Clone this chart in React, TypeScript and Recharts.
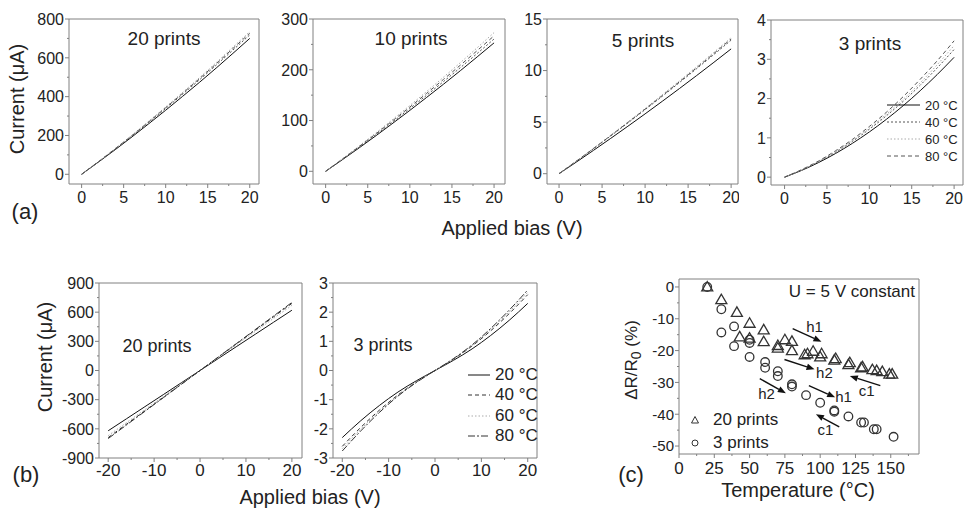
import React from 'react';
import {
  LineChart, Line, XAxis, YAxis, ReferenceArea, ScatterChart, Scatter,
  ReferenceLine, ReferenceDot, Legend,
} from 'recharts';

const FONT = '"Liberation Sans", Arial, sans-serif';
const INK = '#222';
const FRAME = '#808080';

// (a) forward bias sweep, 0..20 V
const biasA = [0, 2, 4, 6, 8, 10, 12, 14, 16, 18, 20];
const a20_20C = [0, 63, 127, 193, 261, 330, 401, 473, 547, 623, 700];
const a20_40C = [0, 64, 130, 198, 268, 339, 412, 486, 562, 640, 718];
const a20_60C = [0, 65, 133, 202, 274, 347, 421, 497, 575, 655, 735];
const a20_80C = [0, 65, 132, 200, 271, 343, 417, 492, 569, 648, 727];

const a10_20C = [0, 23, 46.4, 70.4, 95, 120, 145.6, 171.6, 198.2, 225.4, 253];
const a10_40C = [0, 23.6, 47.8, 72.6, 97.8, 123.6, 149.9, 176.8, 204.2, 232.1, 260.6];
const a10_60C = [0, 24.8, 50.2, 76.1, 102.6, 129.6, 157.2, 185.4, 214.1, 243.4, 273.2];
const a10_80C = [0, 24.2, 49, 74.3, 100.2, 126.6, 153.6, 181.1, 209.1, 237.8, 266.9];

const a5_20C = [0, 1.12, 2.26, 3.42, 4.6, 5.8, 7.02, 8.26, 9.52, 10.8, 12.1];
const a5_40C = [0, 1.2, 2.42, 3.66, 4.92, 6.21, 7.51, 8.84, 10.19, 11.56, 12.95];
const a5_60C = [0, 1.22, 2.46, 3.73, 5.01, 6.32, 7.65, 9.0, 10.38, 11.77, 13.19];
const a5_80C = [0, 1.21, 2.44, 3.69, 4.97, 6.26, 7.58, 8.92, 10.28, 11.66, 13.07];

const a3_20C = [0, 0.17, 0.37, 0.6, 0.86, 1.15, 1.47, 1.82, 2.2, 2.61, 3.05];
const a3_40C = [0, 0.18, 0.39, 0.63, 0.91, 1.22, 1.56, 1.93, 2.34, 2.78, 3.25];
const a3_60C = [0, 0.18, 0.4, 0.65, 0.93, 1.25, 1.6, 1.98, 2.4, 2.86, 3.35];
const a3_80C = [0, 0.19, 0.41, 0.67, 0.96, 1.29, 1.65, 2.05, 2.49, 2.96, 3.47];

// (b) bipolar sweep, -20..20 V
const biasB = [-20, -16, -12, -8, -4, 0, 4, 8, 12, 16, 20];
const b20_20C = [-620, -496, -372, -248, -124, 0, 124, 248, 372, 496, 620];
const b20_40C = [-690, -552, -414, -276, -138, 0, 138, 276, 414, 552, 690];
const b20_60C = [-670, -536, -402, -268, -134, 0, 134, 268, 402, 536, 670];
const b20_80C = [-700, -560, -420, -280, -140, 0, 140, 280, 420, 560, 700];

const b3_20C = [-2.3, -1.72, -1.2, -0.74, -0.35, 0, 0.35, 0.74, 1.2, 1.72, 2.3];
const b3_40C = [-2.6, -1.95, -1.36, -0.84, -0.39, 0, 0.39, 0.84, 1.36, 1.95, 2.6];
const b3_60C = [-2.68, -2.01, -1.4, -0.86, -0.4, 0, 0.4, 0.86, 1.4, 2.01, 2.68];
const b3_80C = [-2.76, -2.07, -1.44, -0.88, -0.41, 0, 0.41, 0.88, 1.44, 2.07, 2.76];

// (c) resistance change vs temperature
const temp20p = [20, 30, 41, 50, 60, 43, 50, 60, 70, 70, 75, 80, 80, 89, 91, 95, 100, 101, 110, 111, 120, 121, 129, 130, 137, 140, 144, 149, 151];
const dr20p = [0, -4, -8, -11.4, -13.5, -15.7, -16.1, -17.2, -18.4, -19.2, -16.6, -17.1, -20, -21.3, -21, -20.2, -22, -21, -23, -22.5, -24.4, -23.8, -25.4, -25.1, -26, -26.3, -26.6, -27.4, -27.4];
const temp3p = [20, 30, 30, 39, 39, 50, 50, 50, 61, 61, 70, 70, 80, 80, 90, 100, 110, 110, 120, 129, 131, 138, 140, 152];
const dr3p = [0, -7, -14.3, -12.4, -18.6, -16.6, -17.6, -22, -23.6, -25.4, -26.5, -28, -30.6, -31.3, -34, -36.4, -38.8, -39.2, -40.7, -42.6, -42.6, -44.7, -44.7, -47.1];

// cycle arrows: [xFrom, yFrom, xTo, yTo], labels [x, y, text]
const arrowsC = [
  [80.5, -13.1, 100.9, -17.2], [74.7, -22.8, 96, -25.9], [142.6, -31, 121, -28],
  [57.2, -28.8, 75.7, -33.4], [92, -31, 110.6, -34.7], [113.5, -44, 97, -40],
];
const arrowLabels: [number, number, string][] = [
  [96, -12.4, 'h1'], [103, -27, 'h2'], [133, -32.5, 'c1'],
  [62, -33.4, 'h2'], [116.6, -34.4, 'h1'], [103.8, -45, 'c1'],
];

const tempLabels = ['20 °C', '40 °C', '60 °C', '80 °C'];

const stylesA = [
  { key: 't20', stroke: '#111', dash: undefined },
  { key: 't40', stroke: '#555', dash: '2 2' },
  { key: 't60', stroke: '#aaa', dash: '1.5 2' },
  { key: 't80', stroke: '#555', dash: '4 3' },
];
const stylesB = [
  { key: 't20', stroke: '#111', dash: undefined },
  { key: 't40', stroke: '#333', dash: '4 3' },
  { key: 't60', stroke: '#aaa', dash: '1.5 2' },
  { key: 't80', stroke: '#333', dash: '7 2 2 2' },
];

const rows = (xs: number[], s1: number[], s2: number[], s3: number[], s4: number[]) =>
  xs.map((v, i) => ({ v, t20: s1[i], t40: s2[i], t60: s3[i], t80: s4[i] }));

const near = (a: number, list: number[]) => list.some((m) => Math.abs(m - a) < 1e-6);
const steps = (from: number, to: number, step: number) => {
  const out: number[] = [];
  for (let v = from; v <= to + 1e-9; v += step) out.push(Math.round(v * 1000) / 1000);
  return out;
};

const makeXTick = (majors: number[], fs: number, gap: number) => (p: any) => {
  const major = near(p.payload.value, majors);
  return (
    <g>
      <line x1={p.x} x2={p.x} y1={p.y} y2={p.y + (major ? 4 : 2)} stroke={FRAME} />
      {major && (
        <text x={p.x} y={p.y + gap} textAnchor="middle" fontSize={fs} fontFamily={FONT} fill={INK}>
          {String(p.payload.value)}
        </text>
      )}
    </g>
  );
};

const makeYTick = (majors: number[], fs: number) => (p: any) => {
  const major = near(p.payload.value, majors);
  return (
    <g>
      <line x1={p.x} x2={p.x - (major ? 4 : 2)} y1={p.y} y2={p.y} stroke={FRAME} />
      {major && (
        <text x={p.x - 5} y={p.y + fs * 0.36} textAnchor="end" fontSize={fs} fontFamily={FONT} fill={INK}>
          {String(p.payload.value)}
        </text>
      )}
    </g>
  );
};

const PAD_T = 14;
const PAD_R = 1;
const WY = 56;
const HX = 36;

type PanelProps = {
  L: number; T: number; W: number; H: number;
  data: any[];
  styles: typeof stylesA;
  xDomain: [number, number]; yDomain: [number, number];
  xTicks: number[]; xMajor: number[]; yTicks: number[]; yMajor: number[];
  xfs: number; yfs: number; xgap: number;
  legend?: React.ReactNode;
};

const IVPanel = (p: PanelProps) => (
  <div style={{ position: 'absolute', left: p.L - WY, top: p.T - PAD_T }}>
    <LineChart width={WY + p.W + PAD_R} height={PAD_T + p.H + HX} data={p.data}
      margin={{ top: PAD_T, right: PAD_R, left: 0, bottom: 0 }} style={{ overflow: 'visible' }}>
      <XAxis type="number" dataKey="v" domain={p.xDomain} ticks={p.xTicks} interval={0}
        allowDataOverflow tick={makeXTick(p.xMajor, p.xfs, p.xgap)} tickLine={false}
        tickSize={0} tickMargin={0} axisLine={false} height={HX} />
      <YAxis type="number" domain={p.yDomain} ticks={p.yTicks} interval={0} allowDataOverflow
        tick={makeYTick(p.yMajor, p.yfs)} tickLine={false} tickSize={0} tickMargin={0}
        axisLine={false} width={WY} />
      <ReferenceArea x1={p.xDomain[0]} x2={p.xDomain[1]} y1={p.yDomain[0]} y2={p.yDomain[1]}
        fill="none" fillOpacity={0} stroke={FRAME} strokeWidth={1} ifOverflow="visible" />
      {p.styles.map((s, i) => (
        <Line key={s.key} dataKey={s.key} name={tempLabels[i]} type="monotone" stroke={s.stroke}
          strokeDasharray={s.dash} strokeWidth={1} dot={false} isAnimationActive={false} />
      ))}
      {p.legend}
    </LineChart>
  </div>
);

const lineLegend = (styles: typeof stylesA, len: number, rowH: number, fs: number) => () => (
  <div style={{ fontFamily: FONT, color: INK, fontSize: fs }}>
    {styles.map((s, i) => (
      <div key={s.key} style={{ display: 'flex', alignItems: 'center', height: rowH }}>
        <svg width={len} height={4} style={{ marginRight: 5 }}>
          <line x1={0} x2={len} y1={2} y2={2} stroke={s.stroke} strokeDasharray={s.dash} />
        </svg>
        <span style={{ whiteSpace: 'nowrap' }}>{tempLabels[i]}</span>
      </div>
    ))}
  </div>
);

const Txt = ({ x, y, size, children, rot, anchor = 'middle' }: any) => (
  <div style={{
    position: 'absolute', left: x, top: y, fontSize: size, fontFamily: FONT, color: INK,
    whiteSpace: 'nowrap', lineHeight: 1,
    transform: `translate(${anchor === 'end' ? '-100%' : '-50%'}, -50%)${rot ? ' rotate(-90deg)' : ''}`,
  }}>{children}</div>
);

const Tri = (p: any) => (
  <polygon points={`${p.cx},${p.cy - 5.5} ${p.cx - 5.5},${p.cy + 4} ${p.cx + 5.5},${p.cy + 4}`}
    fill="none" stroke="#333" strokeWidth={1.3} />
);
const Circ = (p: any) => <circle cx={p.cx} cy={p.cy} r={4.3} fill="none" stroke="#333" strokeWidth={1.3} />;

const Arrow = (p: any) => {
  const { x1, y1, x2, y2 } = p;
  const a = Math.atan2(y2 - y1, x2 - x1);
  const hl = 8, hw = 3.2;
  const bx = x2 - hl * Math.cos(a), by = y2 - hl * Math.sin(a);
  const nx = -Math.sin(a) * hw, ny = Math.cos(a) * hw;
  return (
    <g>
      <line x1={x1} y1={y1} x2={bx} y2={by} stroke="#111" strokeWidth={1.4} />
      <polygon points={`${x2},${y2} ${bx + nx},${by + ny} ${bx - nx},${by - ny}`} fill="#111" />
    </g>
  );
};

const scatterLegend = () => (
  <div style={{ fontFamily: FONT, color: INK, fontSize: 17 }}>
    {[{ label: '20 prints', tri: true }, { label: '3 prints', tri: false }].map((e) => (
      <div key={e.label} style={{ display: 'flex', alignItems: 'center', height: 23 }}>
        <svg width={10} height={10} style={{ marginRight: 13 }}>
          {e.tri
            ? <polygon points="5,1.5 1.5,8 8.5,8" fill="none" stroke="#333" />
            : <circle cx={5} cy={5} r={3} fill="none" stroke="#333" />}
        </svg>
        <span>{e.label}</span>
      </div>
    ))}
  </div>
);

export default function App() {
  const dataA20 = rows(biasA, a20_20C, a20_40C, a20_60C, a20_80C);
  const dataA10 = rows(biasA, a10_20C, a10_40C, a10_60C, a10_80C);
  const dataA5 = rows(biasA, a5_20C, a5_40C, a5_60C, a5_80C);
  const dataA3 = rows(biasA, a3_20C, a3_40C, a3_60C, a3_80C);
  const dataB20 = rows(biasB, b20_20C, b20_40C, b20_60C, b20_80C);
  const dataB3 = rows(biasB, b3_20C, b3_40C, b3_60C, b3_80C);
  const sc20 = temp20p.map((t, i) => ({ t, d: dr20p[i] }));
  const sc3 = temp3p.map((t, i) => ({ t, d: dr3p[i] }));

  const xA = { xTicks: steps(0, 20, 2.5), xMajor: [0, 5, 10, 15, 20], xfs: 16, yfs: 16, xgap: 19 };
  const xB = { xTicks: steps(-20, 20, 5), xMajor: [-20, -10, 0, 10, 20], xfs: 17, yfs: 16, xgap: 18 };

  const cL = 679, cT = 279, cW = 240, cH = 175;
  const cX: [number, number] = [0, 170];
  const cY: [number, number] = [-52.5, 2.5];

  return (
    <div style={{ position: 'absolute', left: 0, top: 0, width: 964, height: 508, background: '#fff', overflow: 'hidden' }}>
      <IVPanel L={69} T={19} W={190} H={165} data={dataA20} styles={stylesA}
        xDomain={[-1.5, 21.1]} yDomain={[-50, 800]} {...xA}
        yTicks={steps(0, 800, 100)} yMajor={[0, 200, 400, 600, 800]} />
      <IVPanel L={313} T={19} W={192} H={165} data={dataA10} styles={stylesA}
        xDomain={[-1.5, 21.3]} yDomain={[-25, 300]} {...xA}
        yTicks={steps(0, 300, 50)} yMajor={[0, 100, 200, 300]} />
      <IVPanel L={547} T={19} W={191} H={165} data={dataA5} styles={stylesA}
        xDomain={[-1.4, 20.8]} yDomain={[-1, 15]} {...xA}
        yTicks={steps(0, 15, 2.5)} yMajor={[0, 5, 10, 15]} />
      <IVPanel L={771} T={20} W={192} H={165} data={dataA3} styles={stylesA}
        xDomain={[-1.6, 21.05]} yDomain={[-0.2, 4]} {...xA}
        yTicks={steps(0, 4, 0.5)} yMajor={[0, 1, 2, 3, 4]}
        legend={<Legend layout="vertical" align="center" verticalAlign="middle"
          wrapperStyle={{ left: 887 - (771 - WY), top: 96.5 - (20 - PAD_T), width: 76 }}
          content={lineLegend(stylesA, 33, 17, 13)} />} />

      <IVPanel L={99} T={283} W={203} H={175} data={dataB20} styles={stylesB}
        xDomain={[-22, 22.2]} yDomain={[-900, 900]} {...xB}
        yTicks={steps(-900, 900, 150)} yMajor={[-900, -600, -300, 0, 300, 600, 900]} />
      <IVPanel L={333} T={283} W={204} H={175} data={dataB3} styles={stylesB}
        xDomain={[-22, 22]} yDomain={[-3, 3]} {...xB}
        yTicks={steps(-3, 3, 0.5)} yMajor={[-3, -2, -1, 0, 1, 2, 3]}
        legend={<Legend layout="vertical" align="center" verticalAlign="middle"
          wrapperStyle={{ left: 468 - (333 - WY), top: 365 - (283 - PAD_T), width: 80 }}
          content={lineLegend(stylesB, 22, 20.3, 17)} />} />

      <div style={{ position: 'absolute', left: cL - WY, top: cT - PAD_T }}>
        <ScatterChart width={WY + cW + PAD_R} height={PAD_T + cH + HX}
          margin={{ top: PAD_T, right: PAD_R, left: 0, bottom: 0 }}>
          <XAxis type="number" dataKey="t" domain={cX} ticks={steps(0, 162.5, 12.5)} interval={0}
            allowDataOverflow tick={makeXTick(steps(0, 150, 25), 17, 20)} tickLine={false}
            tickSize={0} tickMargin={0} axisLine={false} height={HX} />
          <YAxis type="number" dataKey="d" domain={cY} ticks={steps(-50, 0, 5)} interval={0}
            allowDataOverflow tick={makeYTick(steps(-50, 0, 10), 15)} tickLine={false}
            tickSize={0} tickMargin={0} axisLine={false} width={WY} />
          <ReferenceArea x1={cX[0]} x2={cX[1]} y1={cY[0]} y2={cY[1]} fill="none" fillOpacity={0}
            stroke={FRAME} strokeWidth={1} ifOverflow="visible" />
          <Scatter name="20 prints" data={sc20} shape={Tri} isAnimationActive={false} />
          <Scatter name="3 prints" data={sc3} shape={Circ} isAnimationActive={false} />
          {arrowsC.map((a, i) => (
            <ReferenceLine key={`ar${i}`} segment={[{ x: a[0], y: a[1] }, { x: a[2], y: a[3] }]}
              shape={Arrow} ifOverflow="visible" />
          ))}
          {arrowLabels.map((l, i) => (
            <ReferenceDot key={`lb${i}`} x={l[0]} y={l[1]} r={0} stroke="none" fill="none"
              ifOverflow="visible"
              label={{ value: l[2], position: 'center', fontSize: 15, fill: INK, fontFamily: FONT }} />
          ))}
          <Legend layout="vertical" align="center" verticalAlign="middle"
            wrapperStyle={{ left: 690 - (cL - WY), top: 408.5 - (cT - PAD_T), width: 110 }}
            content={scatterLegend} />
        </ScatterChart>
      </div>

      {/* panel titles and axis labels */}
      <Txt x={164} y={38} size={19}>20 prints</Txt>
      <Txt x={411} y={38} size={19}>10 prints</Txt>
      <Txt x={643} y={40} size={19}>5 prints</Txt>
      <Txt x={870} y={43} size={19}>3 prints</Txt>
      <Txt x={17} y={99} size={20} rot>Current (μA)</Txt>
      <Txt x={25} y={212} size={22}>(a)</Txt>
      <Txt x={512} y={228} size={20}>Applied bias (V)</Txt>

      <Txt x={157} y={346} size={18}>20 prints</Txt>
      <Txt x={383} y={345} size={18}>3 prints</Txt>
      <Txt x={45} y={357} size={20} rot>Current (μA)</Txt>
      <Txt x={26} y={475} size={22}>(b)</Txt>
      <Txt x={310} y={497} size={20}>Applied bias (V)</Txt>

      <Txt x={915} y={291} size={17} anchor="end">U = 5 V constant</Txt>
      <Txt x={633} y={360} size={17} rot>ΔR/R<sub style={{ fontSize: 14 }}>0</sub> (%)</Txt>
      <Txt x={798} y={490} size={20}>Temperature (°C)</Txt>
      <Txt x={631} y={475} size={22}>(c)</Txt>
    </div>
  );
}
